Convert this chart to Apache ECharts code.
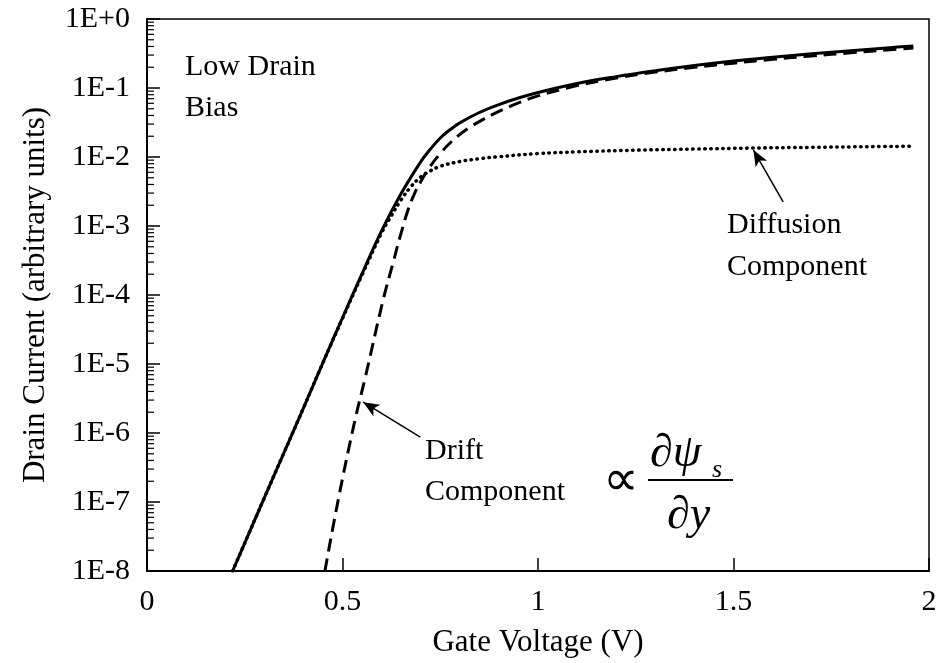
<!DOCTYPE html>
<html>
<head>
<meta charset="utf-8">
<script src="https://cdn.jsdelivr.net/npm/echarts@6/dist/echarts.min.js"></script>
<style>html,body{margin:0;padding:0;background:#fff}#c{width:948px;height:663px}</style>
</head>
<body>
<div id="c"></div>
<script>
// Gate voltage (V) and log10 of drain current
var totalVg   = [0.219,0.25,0.30,0.35,0.40,0.45,0.50,0.55,0.60,0.65,0.70,0.725,0.75,0.775,0.80,0.85,0.90,0.95,1.00,1.10,1.20,1.30,1.40,1.50,1.60,1.70,1.80,1.90,1.96];
var totalLog  = [-8,-7.595,-6.94,-6.29,-5.64,-4.98,-4.33,-3.69,-3.07,-2.53,-2.07,-1.885,-1.725,-1.605,-1.505,-1.355,-1.24,-1.145,-1.065,-0.935,-0.835,-0.75,-0.675,-0.61,-0.555,-0.505,-0.46,-0.415,-0.39];

var driftVg   = [0.455,0.489,0.532,0.558,0.604,0.629,0.647,0.668,0.685,0.70,0.72,0.75,0.78,0.82,0.86,0.90,0.95,1.00,1.10,1.20,1.30,1.40,1.50,1.60,1.70,1.80,1.90,1.96];
var driftLog  = [-8,-6.97,-5.81,-5.20,-4.07,-3.54,-3.16,-2.76,-2.52,-2.36,-2.17,-1.95,-1.77,-1.59,-1.455,-1.34,-1.215,-1.115,-0.965,-0.855,-0.77,-0.70,-0.64,-0.585,-0.535,-0.49,-0.445,-0.42];

var diffVg    = [0.219,0.25,0.30,0.35,0.40,0.45,0.50,0.55,0.60,0.625,0.65,0.675,0.70,0.725,0.75,0.80,0.85,0.90,1.00,1.10,1.26,1.40,1.55,1.70,1.85,1.95];
var diffLog   = [-8,-7.595,-6.94,-6.29,-5.64,-4.98,-4.34,-3.71,-3.10,-2.85,-2.62,-2.43,-2.29,-2.20,-2.135,-2.065,-2.025,-1.995,-1.95,-1.925,-1.90,-1.885,-1.87,-1.86,-1.85,-1.845];

var xTicks = [0, 0.5, 1, 1.5, 2];
var yDecades = [-8,-7,-6,-5,-4,-3,-2,-1,0];
var minorFactors = [2,3,4,5,6,7,8,9];

function pairs(xs, ls){ return xs.map(function(x,i){ return [x, Math.pow(10, ls[i])]; }); }
var minorData = [];
for (var d = 0; d < yDecades.length - 1; d++) {
  for (var k = 0; k < minorFactors.length; k++) {
    minorData.push([0, minorFactors[k] * Math.pow(10, yDecades[d])]);
  }
}

var FONT = '"Liberation Serif","Times New Roman",serif';
var chart = echarts.init(document.getElementById('c'), null, {renderer:'canvas'});
chart.setOption({
  animation: false,
  backgroundColor: '#fff',
  grid: {left:147, right:19, top:19, bottom:92, show:true, borderColor:'#000', borderWidth:1.5, backgroundColor:'transparent'},
  xAxis: {
    type:'value', min:xTicks[0], max:xTicks[xTicks.length-1], interval:0.5,
    name:'Gate Voltage (V)', nameLocation:'middle', nameGap:56,
    nameTextStyle:{fontFamily:FONT, fontSize:31, color:'#000'},
    axisLine:{show:true, onZero:false, lineStyle:{color:'#000', width:2}},
    axisTick:{show:true, inside:true, length:13, lineStyle:{color:'#000', width:1.5}},
    axisLabel:{fontFamily:FONT, fontSize:30, color:'#000', margin:16},
    splitLine:{show:false}
  },
  yAxis: {
    type:'log', logBase:10, min:1e-8, max:1, splitNumber:8,
    name:'Drain Current (arbitrary units)', nameLocation:'middle', nameGap:96,
    nameTextStyle:{fontFamily:FONT, fontSize:31, color:'#000'},
    axisLine:{show:true, lineStyle:{color:'#000', width:2}},
    axisTick:{show:true, inside:true, length:13, lineStyle:{color:'#000', width:1.5}},
    axisLabel:{fontFamily:FONT, fontSize:30, color:'#000', margin:17, padding:[6,0,0,0],
      formatter:function(v){ var e = Math.round(Math.log10(v)); return '1E' + (e >= 0 ? '+' : '') + e; }},
    splitLine:{show:false}
  },
  series: [
    {
      type:'custom', name:'minorTicks', silent:true, z:5,
      data: minorData,
      renderItem:function(params, api){
        var p = api.coord([api.value(0), api.value(1)]);
        return {type:'line', shape:{x1:p[0], y1:p[1], x2:p[0]+7, y2:p[1]}, style:{stroke:'#000', lineWidth:1.2}};
      }
    },
    {
      type:'line', name:'Diffusion', data:pairs(diffVg, diffLog), showSymbol:false, smooth:0.4, z:2,
      lineStyle:{color:'#000', width:3.5, type:[0.5,5.5], cap:'round'},
      markLine:{silent:true, symbol:['none','arrow'], symbolSize:[10,16], label:{show:false},
        lineStyle:{color:'#000', width:1.5, type:'solid'},
        data:[[{coord:[1.627, 2.23e-3]}, {coord:[1.551, 1.26e-2]}]]}
    },
    {
      type:'line', name:'Drift', data:pairs(driftVg, driftLog), showSymbol:false, smooth:0.4, z:3,
      lineStyle:{color:'#000', width:3, type:[13,7]},
      markLine:{silent:true, symbol:['none','arrow'], symbolSize:[10,16], label:{show:false},
        lineStyle:{color:'#000', width:1.5, type:'solid'},
        data:[[{coord:[0.699, 8.7e-7]}, {coord:[0.553, 2.8e-6]}]]}
    },
    {
      type:'line', name:'Total', data:pairs(totalVg, totalLog), showSymbol:false, smooth:0.4, z:4,
      lineStyle:{color:'#000', width:3, type:'solid'}
    }
  ],
  graphic: [
    {type:'text', left:185, top:52, style:{text:'Low Drain', font:'30px '+FONT, fill:'#000'}},
    {type:'text', left:185, top:93, style:{text:'Bias', font:'30px '+FONT, fill:'#000'}},
    {type:'text', left:425, top:436, style:{text:'Drift', font:'30px '+FONT, fill:'#000'}},
    {type:'text', left:425, top:477, style:{text:'Component', font:'30px '+FONT, fill:'#000'}},
    {type:'text', left:727, top:210, style:{text:'Diffusion', font:'30px '+FONT, fill:'#000'}},
    {type:'text', left:727, top:252, style:{text:'Component', font:'30px '+FONT, fill:'#000'}},
    {type:'text', left:603, top:457, style:{text:'\u221D', font:'50px '+FONT, fill:'#000'}},
    {type:'text', left:650, top:431, style:{text:'\u2202\u03C8', font:'italic 46px '+FONT, fill:'#000'}},
    {type:'text', left:712, top:457, style:{text:'s', font:'italic 26px '+FONT, fill:'#000'}},
    {type:'line', shape:{x1:648, y1:480, x2:733, y2:480}, style:{stroke:'#000', lineWidth:2}},
    {type:'text', left:667, top:493, style:{text:'\u2202y', font:'italic 46px '+FONT, fill:'#000'}}
  ]
});
</script>
</body>
</html>
